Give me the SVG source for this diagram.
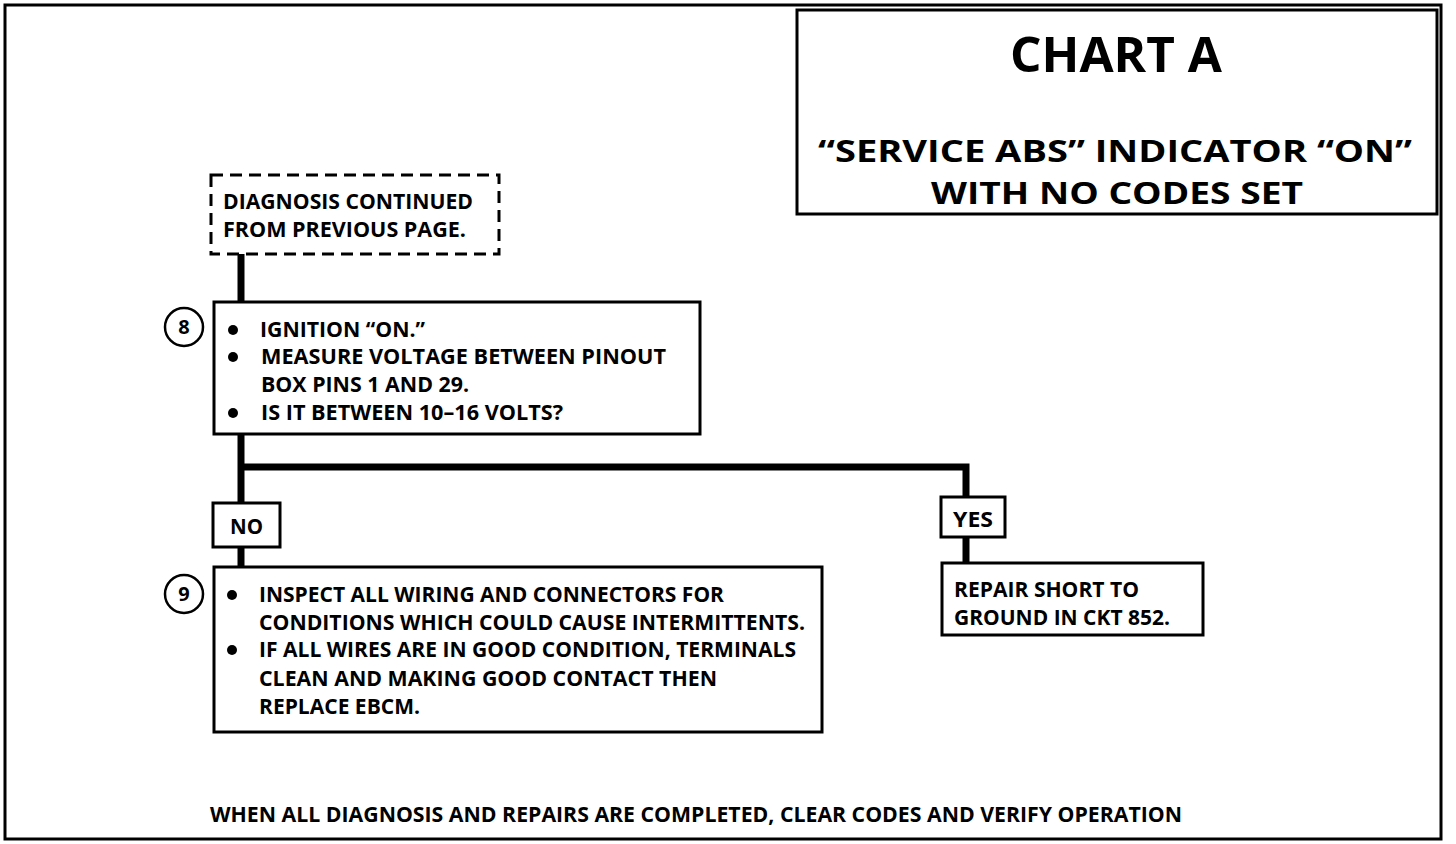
<svg xmlns="http://www.w3.org/2000/svg" width="1456" height="844" viewBox="0 0 1456 844">
<style>
text{font-family:"Open Sans","Liberation Sans",sans-serif;font-weight:bold;fill:#000}
.t{font-size:21px}
.box{fill:#fff;stroke:#000;stroke-width:3}
.dash{fill:#fff;stroke:#000;stroke-width:3;stroke-dasharray:12 7}
.conn{fill:none;stroke:#000;stroke-width:7}
.num{fill:#fff;stroke:#000;stroke-width:2.5}
</style>
<rect x="0" y="0" width="1456" height="844" fill="#fff"/>
<rect x="5" y="5" width="1436" height="834" fill="none" stroke="#000" stroke-width="3"/>
<g id="connectors">
<path class="conn" d="M241 254 V302"/>
<path class="conn" d="M241 434 V503"/>
<path class="conn" d="M241 547 V567"/>
<path class="conn" d="M241 467 H966 V497"/>
<path class="conn" d="M966 537 V563"/>
</g>
<g id="title">
<rect class="box" x="797" y="10" width="640" height="204"/>
<text x="1116" y="72" font-size="48" text-anchor="middle" textLength="212" lengthAdjust="spacingAndGlyphs">CHART A</text>
<text x="1115" y="162" font-size="31" text-anchor="middle" textLength="594" lengthAdjust="spacingAndGlyphs">“SERVICE ABS” INDICATOR “ON”</text>
<text x="1117" y="204" font-size="31" text-anchor="middle" textLength="372" lengthAdjust="spacingAndGlyphs">WITH NO CODES SET</text>
</g>
<g id="continued">
<rect class="dash" x="211" y="175" width="288" height="79"/>
<text class="t" x="223" y="209" textLength="250" lengthAdjust="spacingAndGlyphs">DIAGNOSIS CONTINUED</text>
<text class="t" x="223" y="237" textLength="243" lengthAdjust="spacingAndGlyphs">FROM PREVIOUS PAGE.</text>
</g>
<g id="step8">
<circle class="num" cx="184" cy="327" r="19"/>
<text x="184" y="334" font-size="20" text-anchor="middle">8</text>
<rect class="box" x="214" y="302" width="486" height="132"/>
<circle cx="233" cy="330" r="5"/>
<circle cx="233" cy="357" r="5"/>
<circle cx="233" cy="413" r="5"/>
<text class="t" x="260" y="337" textLength="165" lengthAdjust="spacingAndGlyphs">IGNITION “ON.”</text>
<text class="t" x="261" y="364" textLength="405" lengthAdjust="spacingAndGlyphs">MEASURE VOLTAGE BETWEEN PINOUT</text>
<text class="t" x="261" y="392" textLength="208" lengthAdjust="spacingAndGlyphs">BOX PINS 1 AND 29.</text>
<text class="t" x="261" y="420" textLength="302" lengthAdjust="spacingAndGlyphs">IS IT BETWEEN 10–16 VOLTS?</text>
</g>
<g id="no">
<rect class="box" x="213" y="503" width="67" height="44"/>
<text class="t" x="230" y="534" textLength="33" lengthAdjust="spacingAndGlyphs">NO</text>
</g>
<g id="step9">
<circle class="num" cx="184" cy="594" r="19"/>
<text x="184" y="601" font-size="20" text-anchor="middle">9</text>
<rect class="box" x="214" y="567" width="608" height="165"/>
<circle cx="232" cy="595" r="5"/>
<circle cx="232" cy="650" r="5"/>
<text class="t" x="259" y="602" textLength="465" lengthAdjust="spacingAndGlyphs">INSPECT ALL WIRING AND CONNECTORS FOR</text>
<text class="t" x="259" y="630" textLength="546" lengthAdjust="spacingAndGlyphs">CONDITIONS WHICH COULD CAUSE INTERMITTENTS.</text>
<text class="t" x="259" y="657" textLength="537" lengthAdjust="spacingAndGlyphs">IF ALL WIRES ARE IN GOOD CONDITION, TERMINALS</text>
<text class="t" x="259" y="686" textLength="458" lengthAdjust="spacingAndGlyphs">CLEAN AND MAKING GOOD CONTACT THEN</text>
<text class="t" x="259" y="714" textLength="161" lengthAdjust="spacingAndGlyphs">REPLACE EBCM.</text>
</g>
<g id="yes">
<rect class="box" x="941" y="497" width="64" height="40"/>
<text class="t" x="953" y="527" textLength="40" lengthAdjust="spacingAndGlyphs">YES</text>
</g>
<g id="repair">
<rect class="box" x="942" y="563" width="261" height="72"/>
<text class="t" x="954" y="597" textLength="185" lengthAdjust="spacingAndGlyphs">REPAIR SHORT TO</text>
<text class="t" x="954" y="625" textLength="216" lengthAdjust="spacingAndGlyphs">GROUND IN CKT 852.</text>
</g>
<g id="footer">
<text class="t" x="210" y="822" textLength="972" lengthAdjust="spacingAndGlyphs">WHEN ALL DIAGNOSIS AND REPAIRS ARE COMPLETED, CLEAR CODES AND VERIFY OPERATION</text>
</g>
</svg>
